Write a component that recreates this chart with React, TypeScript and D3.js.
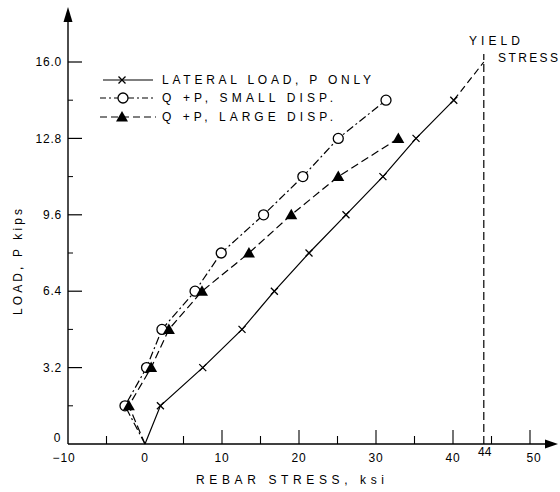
import * as d3 from 'd3';

// load P (kips) vs rebar stress (ksi)
const lateralX = [0, 2, 7.5, 12.6, 16.8, 21.3, 26.1, 30.9, 35.2, 40.1];
const lateralY = [0, 1.6, 3.2, 4.8, 6.4, 8.0, 9.6, 11.2, 12.8, 14.4];
const yieldExtX = [40.1, 44];
const yieldExtY = [14.4, 16.0];

const smallX = [0, -2.6, 0.2, 2.2, 6.5, 9.9, 15.4, 20.5, 25.1, 31.3];
const smallY = [0, 1.6, 3.2, 4.8, 6.4, 8.0, 9.6, 11.2, 12.8, 14.4];

const largeX = [0, -2.1, 0.8, 3.1, 7.4, 13.5, 19.0, 25.1, 32.9];
const largeY = [0, 1.6, 3.2, 4.8, 6.4, 8.0, 9.6, 11.2, 12.8];

const yMajor = [3.2, 6.4, 9.6, 12.8, 16.0];
const yMajorLabels = ['3.2', '6.4', '9.6', '12.8', '16.0'];
const yMinor = [1.6, 4.8, 8.0, 11.2, 14.4];
const xMajor = [10, 20, 30, 40, 50];
const xMinor = [-5, 5, 15, 25, 35, 45];
const xLabels = [-10, 0, 10, 20, 30, 40, 50];
const yieldStress = 44;

const legendLabels = ['LATERAL LOAD, P ONLY', 'Q +P, SMALL DISP.', 'Q +P, LARGE DISP.'];

const FONT = '"Liberation Sans", Arial, sans-serif';

export default function App() {
  const x = d3.scaleLinear().domain([-10, 50]).range([68, 530]);
  const y = d3.scaleLinear().domain([0, 16]).range([444, 62]);

  const line = d3.line<[number, number]>().x(d => x(d[0])).y(d => y(d[1]));
  const zip = (a: number[], b: number[]) => a.map((v, i) => [v, b[i]] as [number, number]);

  const lateral = zip(lateralX, lateralY);
  const small = zip(smallX, smallY);
  const large = zip(largeX, largeY);

  const xMark = (cx: number, cy: number, k: string) => (
    <path key={k} d={`M${cx - 3.5},${cy - 3.5}L${cx + 3.5},${cy + 3.5}M${cx + 3.5},${cy - 3.5}L${cx - 3.5},${cy + 3.5}`}
      stroke="#000" strokeWidth={1.3} fill="none" />
  );
  const circ = (cx: number, cy: number, k: string) => (
    <circle key={k} cx={cx} cy={cy} r={5} fill="#fff" stroke="#000" strokeWidth={1.3} />
  );
  const tri = (cx: number, cy: number, k: string) => (
    <path key={k} d={`M${cx},${cy - 6}L${cx + 6},${cy + 4.5}L${cx - 6},${cy + 4.5}Z`} fill="#000" />
  );

  const axY = y(0);
  const axX = x(-10);

  return (
    <svg width={560} height={492} style={{ position: 'absolute', left: 0, top: 0, background: '#fff' }}
      fontFamily={FONT}>
      <rect width={560} height={492} fill="#fff" />

      {/* axes */}
      <line x1={axX} y1={axY} x2={548} y2={axY} stroke="#000" strokeWidth={1.4} />
      <path d={`M558,${axY}L545,${axY - 4.5}L545,${axY + 4.5}Z`} fill="#000" />
      <line x1={axX} y1={axY} x2={axX} y2={18} stroke="#000" strokeWidth={1.4} />
      <path d={`M${axX},7L${axX - 4.5},22L${axX + 4.5},22Z`} fill="#000" />

      {/* y ticks */}
      {yMajor.map((v, i) => (
        <g key={'ym' + i}>
          <line x1={axX} x2={axX + 14} y1={y(v)} y2={y(v)} stroke="#000" strokeWidth={1.2} />
          <text x={62} y={y(v)} dy="0.35em" textAnchor="end" fontSize={12} letterSpacing={0.8}>{yMajorLabels[i]}</text>
        </g>
      ))}
      {yMinor.map((v, i) => (
        <line key={'yn' + i} x1={axX} x2={axX + 5} y1={y(v)} y2={y(v)} stroke="#000" strokeWidth={1} />
      ))}
      <text x={57} y={438} dy="0.35em" textAnchor="middle" fontSize={12}>0</text>

      {/* x ticks */}
      {xMajor.map((v, i) => (
        <line key={'xm' + i} x1={x(v)} x2={x(v)} y1={axY} y2={axY - 14} stroke="#000" strokeWidth={1.1} />
      ))}
      {xMinor.map((v, i) => (
        <line key={'xn' + i} x1={x(v)} x2={x(v)} y1={axY} y2={axY - 8} stroke="#000" strokeWidth={1.1} />
      ))}
      {xLabels.map((v, i) => (
        <text key={'xl' + i} x={x(v) + (v === 50 ? 4 : v < 0 ? -4 : 0)} y={458} dy="0.35em" textAnchor="middle" fontSize={12} letterSpacing={0.8}>
          {v < 0 ? '\u2212' + Math.abs(v) : String(v)}
        </text>
      ))}
      <text x={x(yieldStress) + 1} y={452} dy="0.35em" textAnchor="middle" fontSize={12}>44</text>

      {/* axis titles */}
      <text x={290} y={480} dy="0.35em" textAnchor="middle" fontSize={12} textLength={188} lengthAdjust="spacing">
        REBAR STRESS, ksi
      </text>
      <text transform="translate(18,262) rotate(-90)" textAnchor="middle" dy="0.35em" fontSize={12}
        textLength={106} lengthAdjust="spacing">LOAD, P kips</text>

      {/* yield stress */}
      <line x1={x(yieldStress)} x2={x(yieldStress)} y1={axY} y2={54} stroke="#000" strokeWidth={1.2} strokeDasharray="8,4" />
      <text x={469} y={41} dy="0.35em" fontSize={12} textLength={51} lengthAdjust="spacing">YIELD</text>
      <text x={498} y={58} dy="0.35em" fontSize={12} textLength={60} lengthAdjust="spacing">STRESS</text>

      {/* series lines */}
      <path d={line(lateral) ?? ''} fill="none" stroke="#000" strokeWidth={1.2} />
      <path d={line(zip(yieldExtX, yieldExtY)) ?? ''} fill="none" stroke="#000" strokeWidth={1.2} strokeDasharray="7,4" />
      <path d={line(small) ?? ''} fill="none" stroke="#000" strokeWidth={1.2} strokeDasharray="8,3,2,3" />
      <path d={line(large) ?? ''} fill="none" stroke="#000" strokeWidth={1.2} strokeDasharray="8,4" />

      {/* markers */}
      {lateral.slice(1).map((d, i) => xMark(x(d[0]), y(d[1]), 'lx' + i))}
      {small.slice(1).map((d, i) => circ(x(d[0]), y(d[1]), 'sc' + i))}
      {large.slice(1).map((d, i) => tri(x(d[0]), y(d[1]), 'lt' + i))}

      {/* legend */}
      <g>
        <line x1={103} x2={153} y1={80} y2={80} stroke="#000" strokeWidth={1.1} />
        {xMark(122, 80, 'lg1')}
        <line x1={100} x2={156} y1={98} y2={98} stroke="#000" strokeWidth={1.1} strokeDasharray="6,3,2,3" />
        {circ(123, 98, 'lg2')}
        <line x1={100} x2={156} y1={117} y2={117} stroke="#000" strokeWidth={1.1} strokeDasharray="7,4" />
        {tri(122, 117, 'lg3')}
        <text x={162} y={80} dy="0.35em" fontSize={12} textLength={209} lengthAdjust="spacing">{legendLabels[0]}</text>
        <text x={162} y={98} dy="0.35em" fontSize={12} textLength={171} lengthAdjust="spacing">{legendLabels[1]}</text>
        <text x={162} y={117} dy="0.35em" fontSize={12} textLength={171} lengthAdjust="spacing">{legendLabels[2]}</text>
      </g>
    </svg>
  );
}
